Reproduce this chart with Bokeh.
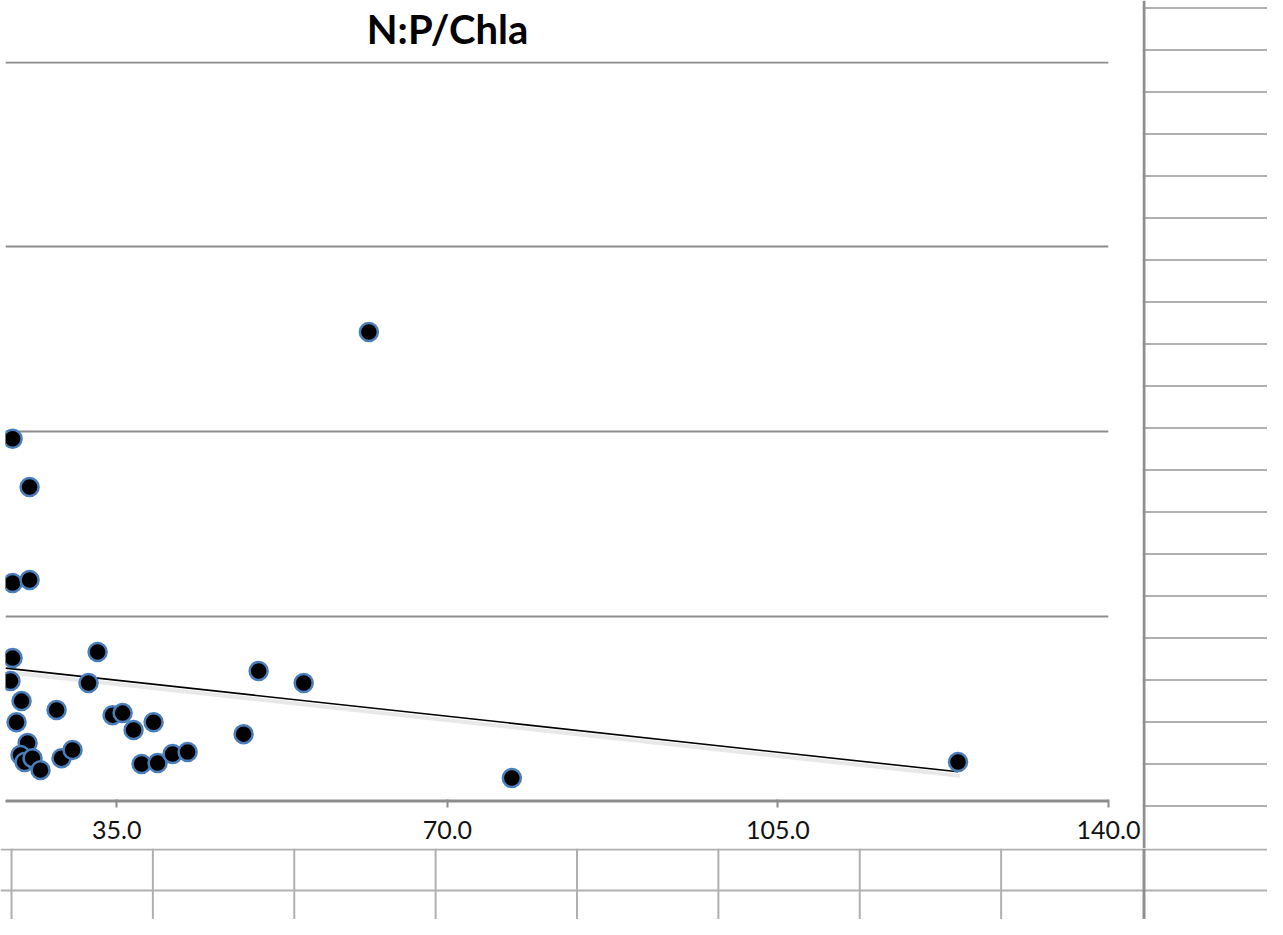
import numpy as np
from bokeh.plotting import figure
from bokeh.models import Range1d, FixedTicker, PrintfTickFormatter, ColumnDataSource, Grid
from bokeh.core.properties import value
from bokeh.layouts import row, column
from bokeh.embed import file_html
from bokeh.resources import INLINE

# ---- data ----
title_text = "N:P/Chla"
x_ticks = [35.0, 70.0, 105.0, 140.0]
y_grid = [0, 1, 2, 3, 4]

np_ratio = [23.97, 32.97, 23.75, 32.01, 24.92, 28.63, 24.39, 34.56, 35.62, 36.78,
            38.90, 25.56, 24.81, 25.24, 26.08, 26.93, 29.15, 30.32, 37.63, 39.32,
            40.91, 42.50, 50.02, 54.79, 48.43, 23.97, 25.77, 23.97, 25.77, 61.69,
            76.83, 124.07]
chla = [0.772, 0.805, 0.648, 0.637, 0.539, 0.491, 0.425, 0.463, 0.474, 0.382,
        0.425, 0.312, 0.247, 0.209, 0.230, 0.165, 0.230, 0.274, 0.198, 0.203,
        0.252, 0.263, 0.702, 0.637, 0.360, 1.961, 1.699, 1.179, 1.195, 2.539,
        0.122, 0.209]

trend_slope = -0.00557
trend_intercept = 0.847

GRID = "#8c8c8c"
CELL = "#b0b0b0"
BORDER = "#8f8f8f"


def blank(w, h, xr, yr):
    f = figure(width=w, height=h, x_range=Range1d(*xr), y_range=Range1d(*yr),
               x_axis_type=None, y_axis_type=None, output_backend="svg",
               toolbar_location=None, min_border=0)
    f.outline_line_color = None
    f.background_fill_color = "white"
    f.border_fill_color = "white"
    return f

# ---- title strip (its frame is aligned with the chart frame: 5..1108 px) ----
title_fig = blank(1142, 56, (5, 1108), (56, 0))
title_fig.text(x=[447], y=[28], text=[title_text], text_align="center",
               text_baseline="middle", text_font=value("Lato"),
               text_font_size="40px", text_font_style="bold", text_color="black")

# ---- main chart ----
main = figure(width=1142, height=792,
              x_range=Range1d(23.22, 140.0), y_range=Range1d(-0.005, 4.005),
              y_axis_location=None, output_backend="svg", toolbar_location=None,
              min_border_left=5, min_border_right=34, min_border_top=5, min_border_bottom=47)
main.outline_line_color = None
main.background_fill_color = "white"
main.border_fill_color = "white"
main.xgrid.visible = False
main.add_layout(Grid(dimension=1, ticker=FixedTicker(ticks=y_grid),
                     grid_line_color=GRID, grid_line_width=2))

ax = main.xaxis[0]
ax.ticker = FixedTicker(ticks=x_ticks)
ax.formatter = PrintfTickFormatter(format="%.1f")
ax.axis_line_color = GRID
ax.axis_line_width = 2
ax.major_tick_line_color = GRID
ax.major_tick_line_width = 2
ax.major_tick_in = 2
ax.major_tick_out = 6
ax.minor_tick_line_color = None
ax.major_label_text_font = "Lato"
ax.major_label_text_font_size = "25px"
ax.major_label_text_color = "#111111"
ax.major_label_standoff = 13

# trendline (with Excel-like soft shadow)
tx = np.array([main.x_range.start, max(np_ratio)])
ty = trend_intercept + trend_slope * tx
main.line(tx + 0.2, ty - 0.022, line_color="#e6e6e6", line_width=4, line_alpha=0.9)
main.line(tx, ty, line_color="black", line_width=1.6)

src = ColumnDataSource(dict(x=np_ratio, y=chla))
main.scatter(x="x", y="y", source=src, size=18, fill_color="black",
             line_color="#4a7ebb", line_width=2.5)

# ---- spreadsheet cells around the chart ----
right = blank(125, 848, (1142, 1267), (848, 0))
rows_y = 7.5 + 42.0 * np.arange(0, 20)
right.segment(x0=1142, x1=1267, y0=rows_y, y1=rows_y, line_color=CELL, line_width=2)
right.segment(x0=[1143.5], x1=[1143.5], y0=[0], y1=[848], line_color=BORDER, line_width=3)

bottom = blank(1267, 71, (0, 1267), (919, 848))
bottom.segment(x0=0, x1=1267, y0=[849, 890], y1=[849, 890], line_color=CELL, line_width=2)
cols_x = np.linspace(11, 1142, 9)[:-1]
bottom.segment(x0=cols_x, x1=cols_x, y0=848, y1=919, line_color=CELL, line_width=2)
bottom.segment(x0=[1143.5], x1=[1143.5], y0=[848], y1=[919], line_color=BORDER, line_width=3)

layout = column(row(column(title_fig, main), right), bottom)

open("out.html", "w").write(file_html(layout, INLINE))
